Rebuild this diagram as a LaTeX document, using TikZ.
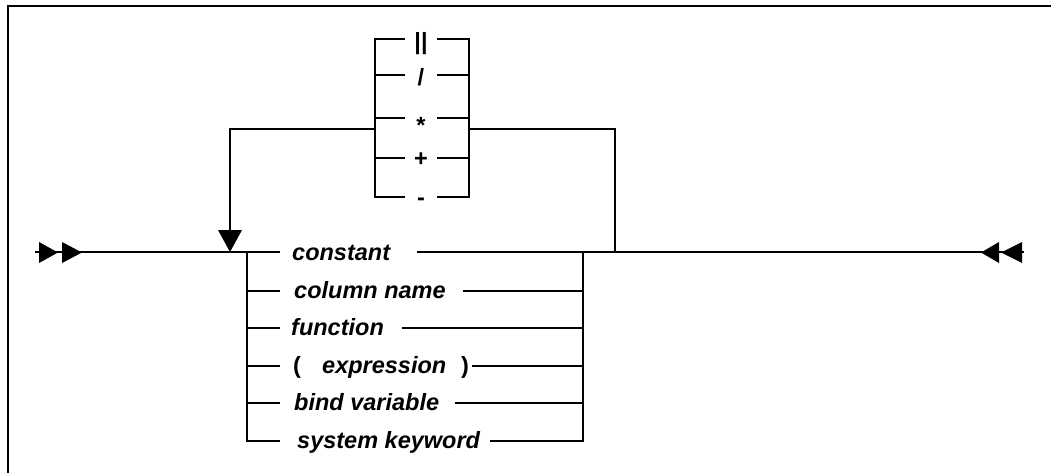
\documentclass[tikz,border=0pt]{standalone}
\usepackage{fontspec}
\setmainfont{Liberation Sans}
\begin{document}
\begin{tikzpicture}[x=1pt,y=-1pt,
  rail/.style={line width=2pt, line join=miter},
  lbl/.style={inner sep=0pt, anchor=base west, font=\fontsize{23.5}{28}\selectfont\bfseries\itshape},
  par/.style={inner sep=0pt, anchor=base west, font=\fontsize{23.5}{28}\selectfont\bfseries},
  op/.style={inner sep=0pt, anchor=base, font=\fontsize{23.5}{28}\selectfont\bfseries},
  tip/.style={fill=black, draw=none}]
\useasboundingbox (0,0) rectangle (1051,473);
% frame
\draw[line width=2pt] (7.5,474) -- (7.5,6.5) -- (1052,6.5);

% key coordinates
\coordinate (start) at (35,252);
\coordinate (join) at (230,252);
\coordinate (L1) at (247,252);
\coordinate (S1) at (280,252);
\coordinate (R1) at (417,252);
\coordinate (B1) at (583,252);
\coordinate (loopR) at (615,252);
\coordinate (stop) at (1024,252);

% labels
\node[lbl] (constant) at (292,260) {constant};
\node[lbl] (colname) at (294,298) {column name};
\node[lbl] (function) at (291,335) {function};
\node[par] (lp) at (293,373) {(};
\node[lbl] (expression) at (322,373) {expression};
\node[par] (rp) at (461,373) {)};
\node[lbl] (bindvar) at (294,410) {bind variable};
\node[lbl] (syskw) at (297,448) {system keyword};

% main line
\draw[rail] (start) -- (S1);
\draw[rail] (R1) -- (stop);
% entry arrows
\fill[tip] (39,242) -- (58,252.5) -- (39,263) -- cycle;
\fill[tip] (62,242) -- (82,252.5) -- (62,263) -- cycle;
% exit arrows
\fill[tip] (999,242) -- (981,252.5) -- (999,263) -- cycle;
\fill[tip] (1022,242) -- (1001,252.5) -- (1022,263) -- cycle;

% choice rows
\foreach \i/\y/\r in {2/291/463, 3/328/402, 4/366/472, 5/403/455, 6/441/490} {
  \coordinate (L\i) at (247,\y);
  \coordinate (S\i) at (280,\y);
  \coordinate (R\i) at (\r,\y);
  \coordinate (B\i) at (583,\y);
}
\draw[rail] (L1) -- (L6) -- (S6);
\draw[rail] (R6) -- (B6) -- (B1);
\foreach \i in {2,3,4,5} {
  \draw[rail] (L\i) -- (S\i);
  \draw[rail] (R\i) -- (B\i);
}

% operator box
\foreach \i/\y in {1/39, 2/75, 3/118, 4/158, 5/197} {
  \coordinate (OL\i) at (375,\y);
  \coordinate (OA\i) at (405,\y);
  \coordinate (OB\i) at (437,\y);
  \coordinate (OR\i) at (469,\y);
}
\draw[rail] (OA1) -- (OL1) -- (OL5) -- (OA5);
\draw[rail] (OB1) -- (OR1) -- (OR5) -- (OB5);
\foreach \i in {2,3,4} {
  \draw[rail] (OL\i) -- (OA\i);
  \draw[rail] (OB\i) -- (OR\i);
}
\node[op] (opor) at (421,50) {||};
\node[op] (opdiv) at (421,86) {/};
\node[op] (opmul) at (421,134) {*};
\node[op] (opadd) at (421,167) {+};
\node[op] (opsub) at (421,205) {-};

% loop
\coordinate (OLm) at (375,129);
\coordinate (ORm) at (469,129);
\draw[rail] (loopR) -- (615,129) -- (ORm);
\draw[rail] (OLm) -- (230,129) -- (230,231);
\fill[tip] (218,230) -- (230,252) -- (242,230) -- cycle;
\end{tikzpicture}
\end{document}
